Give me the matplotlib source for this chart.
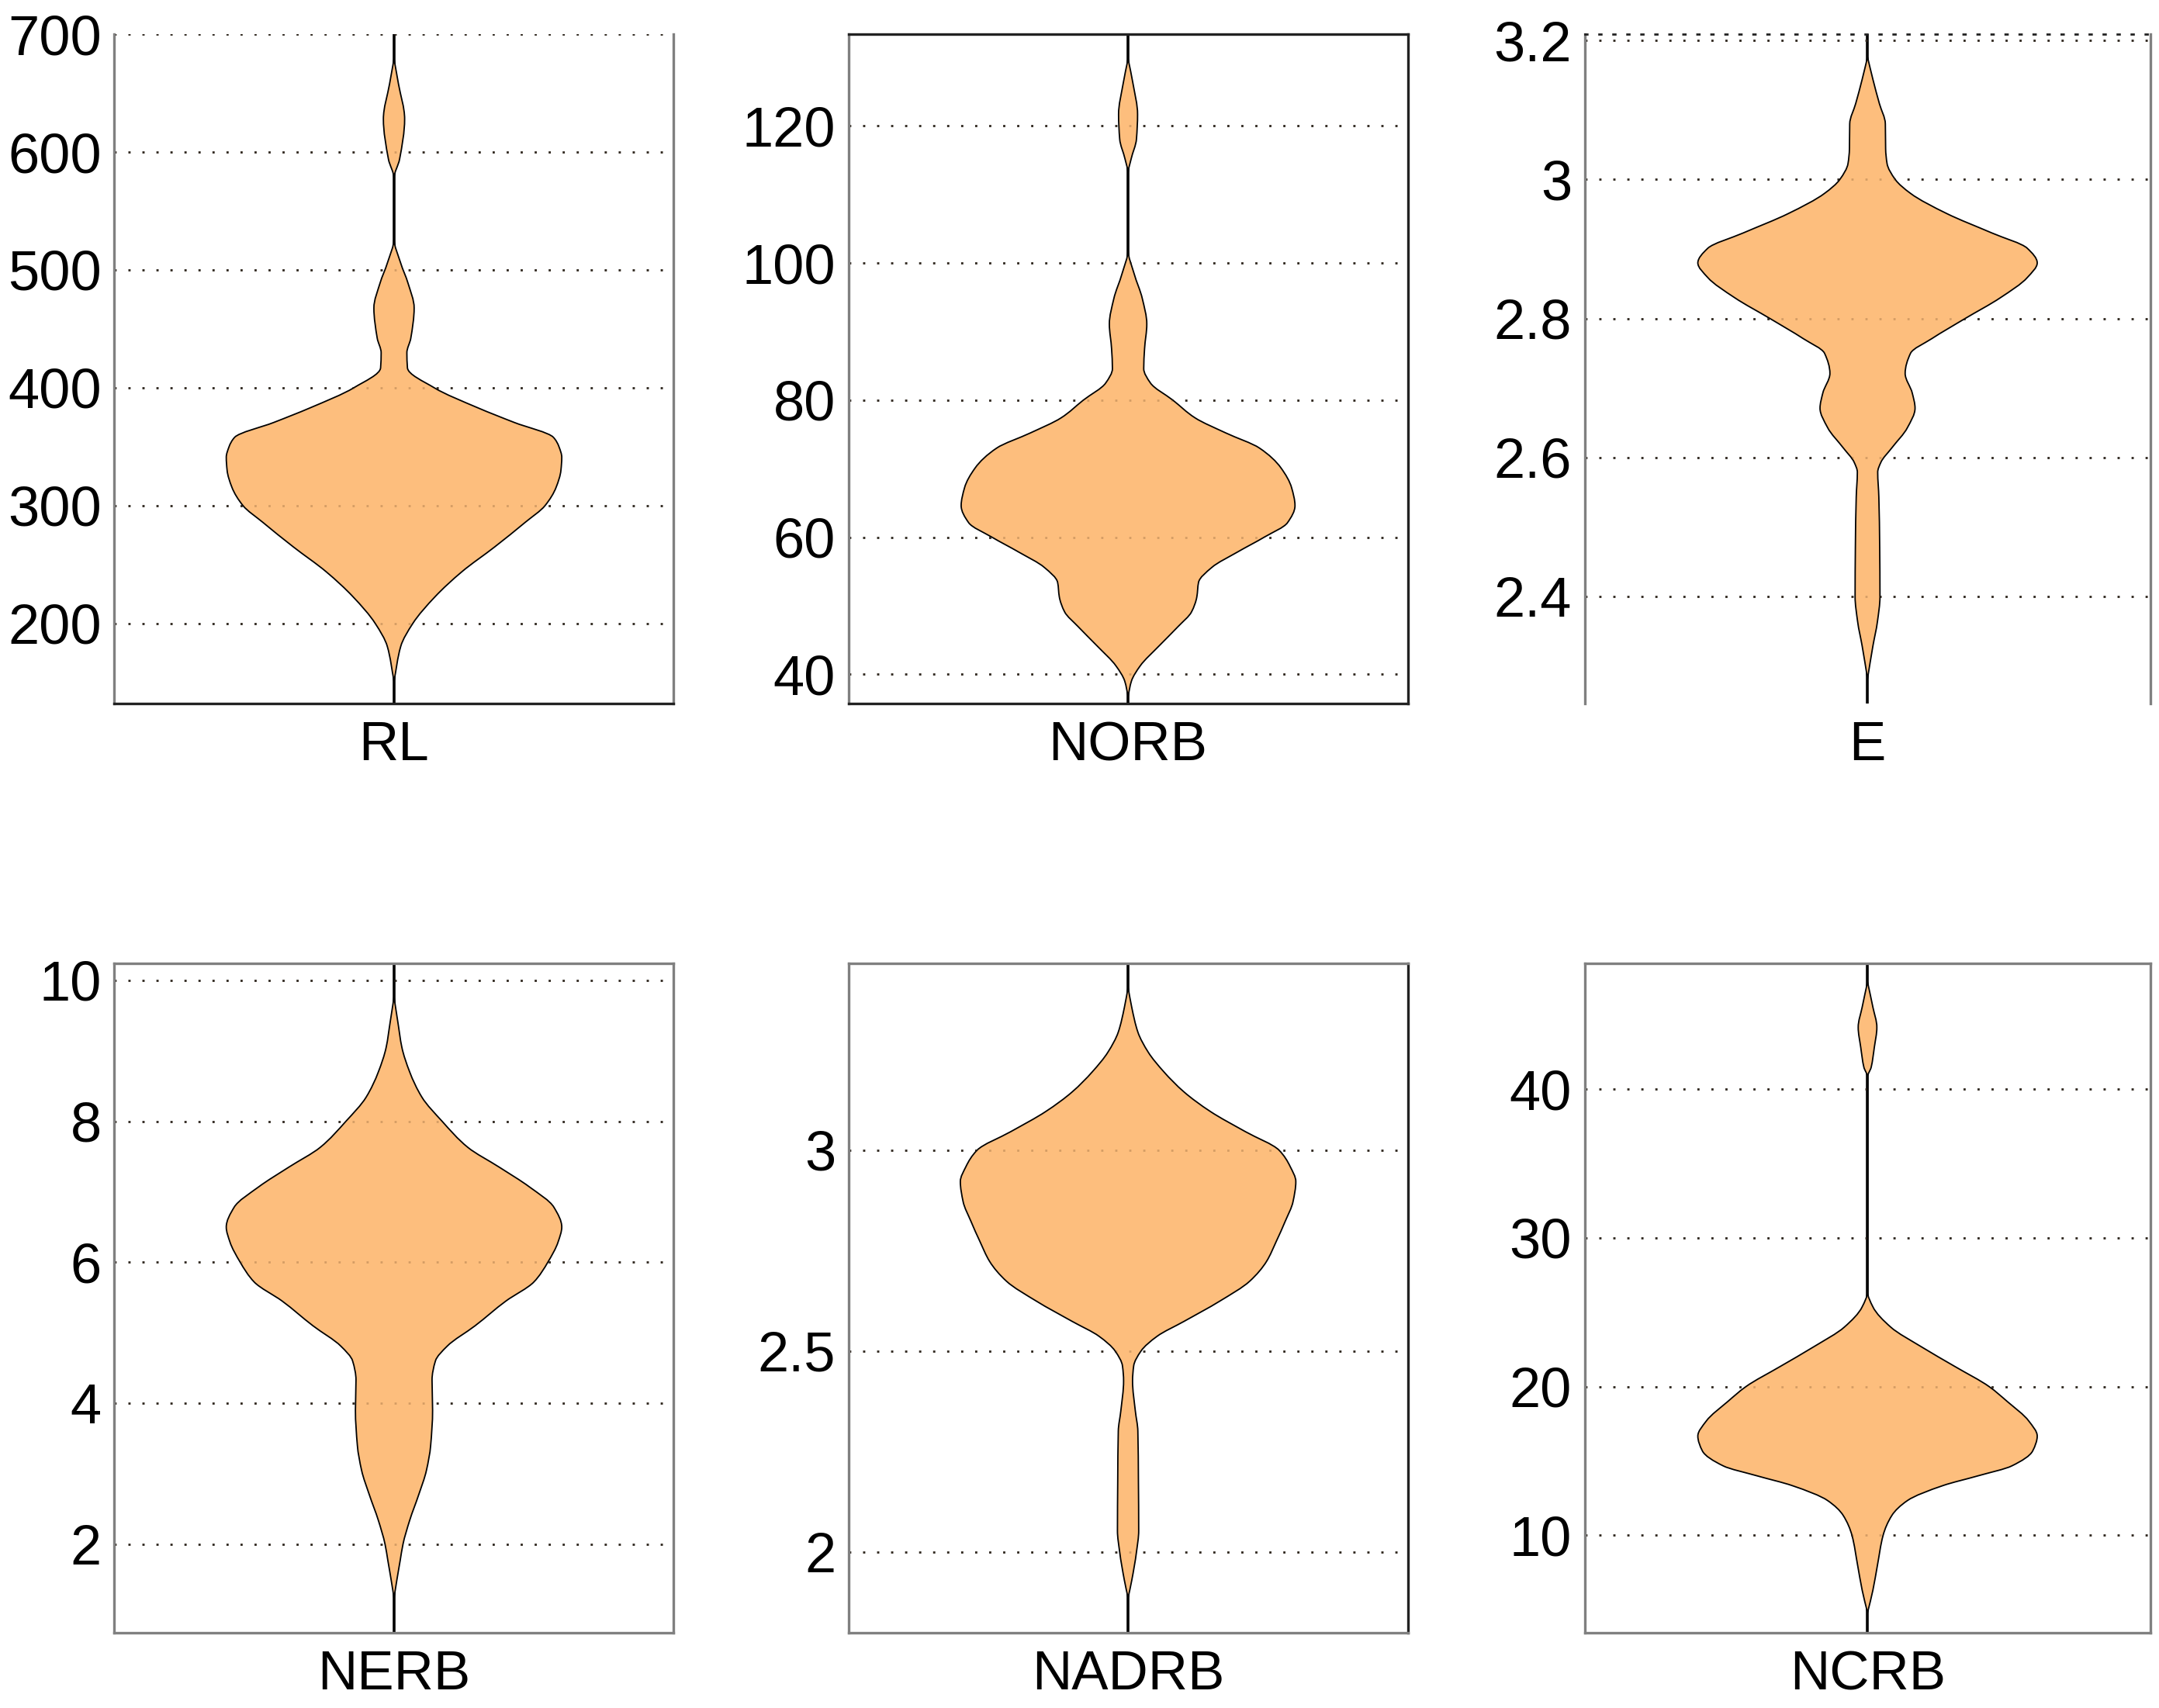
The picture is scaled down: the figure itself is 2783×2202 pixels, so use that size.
import numpy as np
import matplotlib.pyplot as plt
from matplotlib.path import Path
from matplotlib.patches import PathPatch

plt.rcParams['font.family'] = ['Liberation Sans', 'DejaVu Sans']

names = ['RL', 'NORB', 'E', 'NERB', 'NADRB', 'NCRB']

ylims = [(132, 700), (35.7, 133.4), (2.246, 3.209),
         (0.745, 10.24), (1.799, 3.465), (3.45, 48.45)]

yticks = [[200, 300, 400, 500, 600, 700],
          [40, 60, 80, 100, 120],
          [2.4, 2.6, 2.8, 3.0, 3.2],
          [2, 4, 6, 8, 10],
          [2, 2.5, 3],
          [10, 20, 30, 40]]

# violin outline: value -> half width (fraction of half axis width)
rl_y = [151, 180.6, 200, 222.8, 244, 265, 286, 300, 315.7, 330, 341, 350, 358, 370.6,
        383, 400, 417, 429.7, 442, 467.7, 488.8, 505.7, 527, 577.5, 594, 628, 657.7, 679]
rl_w = [0, 0.024, 0.067, 0.147, 0.243, 0.36, 0.47, 0.54, 0.58, 0.597, 0.60, 0.59, 0.57, 0.43,
        0.30, 0.144, 0.048, 0.046, 0.06, 0.072, 0.05, 0.024, 0, 0, 0.02, 0.038, 0.016, 0]

norb_y = [36.8, 39.0, 41.2, 44.1, 47.0, 49.1, 51.3, 53.4, 55.6, 57.8, 60, 62.1, 64.6, 67.2,
          70.1, 73.0, 75.2, 77.4, 80, 82.5, 84.6, 87.5, 91.1, 94.8, 98.4, 102, 113, 115.2,
          118.1, 121.7, 126.1, 129.8]
norb_w = [0, 0.012, 0.043, 0.11, 0.18, 0.227, 0.246, 0.252, 0.30, 0.39, 0.487, 0.57, 0.597, 0.585,
          0.547, 0.47, 0.35, 0.24, 0.16, 0.08, 0.056, 0.059, 0.067, 0.051, 0.022, 0, 0, 0.011,
          0.030, 0.034, 0.018, 0]

e_y = [2.282, 2.329, 2.364, 2.4, 2.471, 2.543, 2.579, 2.593, 2.614, 2.643, 2.671, 2.693, 2.721,
       2.75, 2.771, 2.8, 2.83, 2.859, 2.88, 2.901, 2.923, 2.951, 2.98, 3.0, 3.023, 3.044, 3.08,
       3.109, 3.144, 3.176]
e_w = [0, 0.019, 0.035, 0.044, 0.043, 0.04, 0.036, 0.047, 0.086, 0.141, 0.168, 0.158, 0.133,
       0.152, 0.227, 0.345, 0.47, 0.565, 0.60, 0.565, 0.44, 0.28, 0.152, 0.098, 0.069, 0.064, 0.063,
       0.042, 0.019, 0]

nerb_y = [1.24, 1.49, 1.77, 2.0, 2.34, 2.70, 3.05, 3.40, 3.90, 4.33, 4.60, 4.81, 5.10, 5.45,
          5.72, 6.0, 6.29, 6.5, 6.78, 7.07, 7.35, 7.63, 8.0, 8.34, 8.70, 9.05, 9.40, 9.76]
nerb_w = [0, 0.01, 0.022, 0.032, 0.056, 0.088, 0.116, 0.131, 0.138, 0.136, 0.148, 0.19, 0.29, 0.40,
          0.50, 0.55, 0.587, 0.60, 0.572, 0.484, 0.376, 0.264, 0.172, 0.10, 0.056, 0.028, 0.014, 0]

nadrb_y = [1.886, 1.929, 2.0, 2.053, 2.177, 2.301, 2.351, 2.426, 2.463, 2.5, 2.537, 2.574, 2.624,
           2.674, 2.723, 2.773, 2.823, 2.872, 2.922, 2.959, 3.0, 3.046, 3.096, 3.145, 3.195, 3.244,
           3.294, 3.356, 3.405]
nadrb_w = [0, 0.013, 0.030, 0.038, 0.037, 0.035, 0.026, 0.016, 0.02, 0.046, 0.104, 0.2, 0.327,
           0.435, 0.495, 0.53, 0.562, 0.59, 0.60, 0.58, 0.54, 0.42, 0.295, 0.2, 0.128, 0.072,
           0.035, 0.013, 0]

ncrb_y = [4.81, 6.32, 7.99, 10, 11.34, 12.34, 13.35, 14.0, 14.67, 15.68, 16.68, 17.69, 19.0, 20,
          21.34, 22.68, 24.0, 25.36, 26.4, 40.8, 41.47, 42.8, 44.15, 45.5, 47.2]
ncrb_w = [0, 0.019, 0.035, 0.055, 0.086, 0.141, 0.267, 0.39, 0.51, 0.584, 0.60, 0.57, 0.494, 0.43,
          0.31, 0.19, 0.082, 0.019, 0, 0, 0.013, 0.024, 0.033, 0.019, 0]

profiles = [(rl_y, rl_w), (norb_y, norb_w), (e_y, e_w),
            (nerb_y, nerb_w), (nadrb_y, nadrb_w), (ncrb_y, ncrb_w)]

# axes placement and spine looks
boxes = [[0.053, 0.588, 0.259, 0.392], [0.393, 0.588, 0.259, 0.392], [0.734, 0.588, 0.262, 0.392],
         [0.053, 0.044, 0.259, 0.392], [0.393, 0.044, 0.259, 0.392], [0.734, 0.044, 0.262, 0.392]]
spine_cols = [
    {'left': '#808080', 'right': '#808080', 'bottom': '#222222', 'top': None},
    {'left': '#808080', 'right': '#222222', 'bottom': '#222222', 'top': '#222222'},
    {'left': '#808080', 'right': '#808080', 'bottom': None, 'top': 'dot'},
    {'left': '#808080', 'right': '#808080', 'bottom': '#808080', 'top': '#808080'},
    {'left': '#808080', 'right': '#222222', 'bottom': '#808080', 'top': '#808080'},
    {'left': '#808080', 'right': '#808080', 'bottom': '#808080', 'top': '#808080'},
]


def slopes(y, w):
    # monotone (Fritsch-Carlson) tangents so the outline does not overshoot
    h = np.diff(y)
    d = np.diff(w) / h
    m = np.zeros(len(y))
    for k in range(1, len(y) - 1):
        if d[k - 1] * d[k] > 0:
            w1 = 2 * h[k] + h[k - 1]
            w2 = h[k] + 2 * h[k - 1]
            m[k] = (w1 + w2) / (w1 / d[k - 1] + w2 / d[k])
    m[0] = d[0]
    m[-1] = d[-1]
    return m


def violin_path(y, w):
    y = np.asarray(y, float)
    w = np.asarray(w, float)
    m = slopes(y, w)
    verts = [(w[0], y[0])]
    codes = [Path.MOVETO]
    for k in range(len(y) - 1):
        h = y[k + 1] - y[k]
        verts += [(w[k] + m[k] * h / 3, y[k] + h / 3),
                  (w[k + 1] - m[k + 1] * h / 3, y[k + 1] - h / 3),
                  (w[k + 1], y[k + 1])]
        codes += [Path.CURVE4] * 3
    for k in range(len(y) - 1, 0, -1):
        h = y[k] - y[k - 1]
        verts += [(-(w[k] - m[k] * h / 3), y[k] - h / 3),
                  (-(w[k - 1] + m[k - 1] * h / 3), y[k - 1] + h / 3),
                  (-w[k - 1], y[k - 1])]
        codes += [Path.CURVE4] * 3
    verts.append((w[0], y[0]))
    codes.append(Path.CLOSEPOLY)
    return Path(verts, codes)


fig = plt.figure(figsize=(27.83, 22.02), dpi=100)
dots = (0, (1, 5.5))

for i in range(6):
    ax = fig.add_axes(boxes[i])
    yv, wv = profiles[i]
    ax.set_xlim(-1, 1)
    ax.set_ylim(*ylims[i])
    ax.axvline(0, color='black', lw=2.6, zorder=1)
    for t in yticks[i]:
        ax.axhline(t, color='#222222', lw=2.0, ls=dots, zorder=1.5)
    p = violin_path(yv, wv)
    ax.add_patch(PathPatch(p, facecolor='#FDBE7D', edgecolor='black', lw=1.3, zorder=2))
    for t in yticks[i]:
        ax.axhline(t, color='#5a3a1a', lw=2.0, ls=dots, alpha=0.25, zorder=2.5)
    ax.set_yticks(yticks[i])
    ax.set_yticklabels(['%g' % t for t in yticks[i]])
    ax.set_xticks([])
    ax.tick_params(axis='y', length=0, pad=12, labelsize=52)
    ax.set_xlabel(names[i], fontsize=51, labelpad=16)
    for side, c in spine_cols[i].items():
        sp = ax.spines[side]
        if c is None:
            sp.set_visible(False)
        elif c == 'dot':
            sp.set_color('#222222')
            sp.set_linestyle(dots)
            sp.set_linewidth(2.0)
        else:
            sp.set_color(c)
            sp.set_linewidth(2.4)

fig.savefig('out.png', dpi=100)
